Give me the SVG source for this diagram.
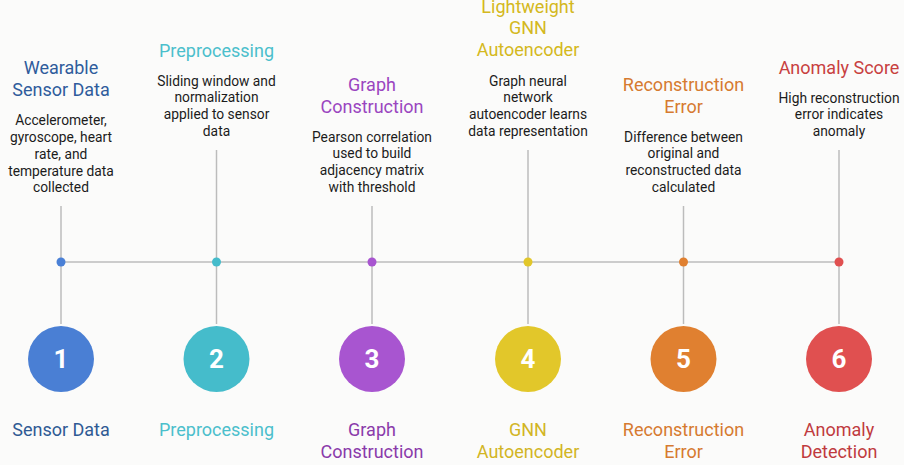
<svg xmlns="http://www.w3.org/2000/svg" width="904" height="465" viewBox="0 0 904 465">
<style>
text{font-family:Roboto,"Liberation Sans",sans-serif;text-anchor:middle}
.t{font-size:18px}
.d{font-size:13.8px;fill:#1c1c1c}
.n{font-size:26px;font-weight:bold;fill:#fff}
.ln{stroke:#bcbcbc;stroke-width:1.5;fill:none}
</style>
<rect width="904" height="465" fill="#fbfbfa"/>
<g id="connectors">
<line class="ln" x1="61" y1="262" x2="839" y2="262"/>
<line class="ln" x1="61" y1="206" x2="61" y2="324"/>
<line class="ln" x1="216.5" y1="150" x2="216.5" y2="324"/>
<line class="ln" x1="372" y1="206" x2="372" y2="324"/>
<line class="ln" x1="528" y1="150" x2="528" y2="324"/>
<line class="ln" x1="683.5" y1="206" x2="683.5" y2="324"/>
<line class="ln" x1="839" y1="150" x2="839" y2="324"/>
</g>
<g id="step1">
<text class="t" x="61" y="74" fill="#2f5c9c">Wearable</text>
<text class="t" x="61" y="96" fill="#2f5c9c">Sensor Data</text>
<text class="d" x="61" y="125">Accelerometer,</text>
<text class="d" x="61" y="142">gyroscope, heart</text>
<text class="d" x="61" y="159">rate, and</text>
<text class="d" x="61" y="176">temperature data</text>
<text class="d" x="61" y="192">collected</text>
<circle cx="61" cy="262" r="4.5" fill="#4a80d6"/>
<circle cx="61" cy="359" r="33" fill="#4a7fd4"/>
<text class="n" x="61" y="368">1</text>
<text class="t" x="61" y="436" fill="#2f5a94">Sensor Data</text>
</g>
<g id="step2">
<text class="t" x="216.5" y="57" fill="#4bbfcc">Preprocessing</text>
<text class="d" x="216.5" y="86">Sliding window and</text>
<text class="d" x="216.5" y="102">normalization</text>
<text class="d" x="216.5" y="119">applied to sensor</text>
<text class="d" x="216.5" y="136">data</text>
<circle cx="216.5" cy="262" r="4.5" fill="#45bccb"/>
<circle cx="216.5" cy="359" r="33" fill="#45bccb"/>
<text class="n" x="216.5" y="368">2</text>
<text class="t" x="216.5" y="436" fill="#4bbfcc">Preprocessing</text>
</g>
<g id="step3">
<text class="t" x="372" y="91" fill="#9a45c0">Graph</text>
<text class="t" x="372" y="113" fill="#9a45c0">Construction</text>
<text class="d" x="372" y="142">Pearson correlation</text>
<text class="d" x="372" y="158">used to build</text>
<text class="d" x="372" y="175">adjacency matrix</text>
<text class="d" x="372" y="192">with threshold</text>
<circle cx="372" cy="262" r="4.5" fill="#a855d0"/>
<circle cx="372" cy="359" r="33" fill="#a855d0"/>
<text class="n" x="372" y="368">3</text>
<text class="t" x="372" y="436" fill="#8a3aaa">Graph</text>
<text class="t" x="372" y="458" fill="#8a3aaa">Construction</text>
</g>
<g id="step4">
<text class="t" x="528" y="13" fill="#d4b820">Lightweight</text>
<text class="t" x="528" y="34" fill="#d4b820">GNN</text>
<text class="t" x="528" y="56" fill="#d4b820">Autoencoder</text>
<text class="d" x="528" y="86">Graph neural</text>
<text class="d" x="528" y="102">network</text>
<text class="d" x="528" y="119">autoencoder learns</text>
<text class="d" x="528" y="136">data representation</text>
<circle cx="528" cy="262" r="4.5" fill="#e2c72a"/>
<circle cx="528" cy="359" r="33" fill="#e2c72a"/>
<text class="n" x="528" y="368">4</text>
<text class="t" x="528" y="436" fill="#d2b524">GNN</text>
<text class="t" x="528" y="458" fill="#d2b524">Autoencoder</text>
</g>
<g id="step5">
<text class="t" x="683.5" y="91" fill="#d67a30">Reconstruction</text>
<text class="t" x="683.5" y="113" fill="#d67a30">Error</text>
<text class="d" x="683.5" y="142">Difference between</text>
<text class="d" x="683.5" y="158">original and</text>
<text class="d" x="683.5" y="175">reconstructed data</text>
<text class="d" x="683.5" y="192">calculated</text>
<circle cx="683.5" cy="262" r="4.5" fill="#e08030"/>
<circle cx="683.5" cy="359" r="33" fill="#e08030"/>
<text class="n" x="683.5" y="368">5</text>
<text class="t" x="683.5" y="436" fill="#d67a30">Reconstruction</text>
<text class="t" x="683.5" y="458" fill="#d67a30">Error</text>
</g>
<g id="step6">
<text class="t" x="839" y="74" fill="#c8403f">Anomaly Score</text>
<text class="d" x="839" y="103">High reconstruction</text>
<text class="d" x="839" y="119">error indicates</text>
<text class="d" x="839" y="136">anomaly</text>
<circle cx="839" cy="262" r="4.5" fill="#e05050"/>
<circle cx="839" cy="359" r="33" fill="#e05050"/>
<text class="n" x="839" y="368">6</text>
<text class="t" x="839" y="436" fill="#c03a3e">Anomaly</text>
<text class="t" x="839" y="458" fill="#c03a3e">Detection</text>
</g>
</svg>
